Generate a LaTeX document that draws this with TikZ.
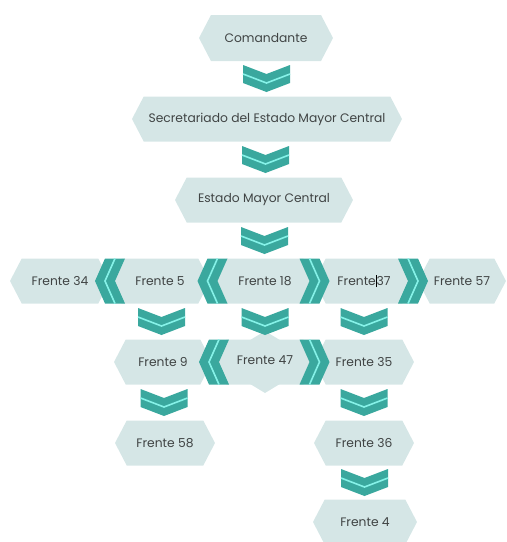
\documentclass[tikz,border=0pt]{standalone}
\usepackage{fontspec}
\setmainfont{Poppins}
\usetikzlibrary{shapes.symbols}
\definecolor{boxcol}{HTML}{D5E6E6}
\definecolor{chevcol}{HTML}{3AA89E}
\definecolor{chevline}{HTML}{86F2E8}
\definecolor{txtcol}{HTML}{404444}
\tikzset{
  hexbox/.style={shape=signal, signal to=west and east, signal pointer angle=125,
    fill=boxcol, draw=none, minimum height=45pt, minimum width=100pt, inner sep=0pt,
    font=\fontsize{12.3}{14}\selectfont, text=txtcol},
  chevdown/.pic={
    \fill[chevcol] (-23.5,-13.5) -- (0,-4.5) -- (23.5,-13.5) -- (23.5,4.5) -- (0,13.5) -- (-23.5,4.5) -- cycle;
    \draw[chevline, line width=1.6pt] (-23.5,-4.5) -- (0,4.5) -- (23.5,-4.5);},
  chevright/.pic={
    \fill[chevcol] (-15,-22.5) -- (5,-22.5) -- (15,0) -- (5,22.5) -- (-15,22.5) -- (-5,0) -- cycle;
    \draw[chevline, line width=1.6pt] (-5,-22.5) -- (5,0) -- (-5,22.5);},
  chevleft/.pic={
    \fill[chevcol] (15,-22.5) -- (-5,-22.5) -- (-15,0) -- (-5,22.5) -- (15,22.5) -- (5,0) -- cycle;
    \draw[chevline, line width=1.6pt] (5,-22.5) -- (-5,0) -- (5,22.5);}
}
\begin{document}
\begin{tikzpicture}[x=1pt, y=-1pt]
\useasboundingbox (0,0) rectangle (507,542);
% boxes
\node[hexbox, minimum width=134pt, minimum height=46pt] (com) at (266,38) {Comandante};
\node[hexbox, minimum width=270pt] (sec) at (267,119) {Secretariado del Estado Mayor Central};
\node[hexbox, minimum width=178pt] (emc) at (264,200) {Estado Mayor Central};
\node[hexbox] (f34) at (60,281) {Frente 34};
\node[hexbox] (f5) at (160,281) {Frente 5};
\node[hexbox] (f18) at (265,281) {Frente 18};
\node[hexbox] (f37) at (364,281) {Frente{\color{black}\rule[-1.5pt]{0.7pt}{12pt}}37};
\node[hexbox, minimum width=88pt] (f57) at (462,281) {Frente 57};
\fill[boxcol] (214,362) -- (265,331) -- (316,362) -- (265,393) -- cycle;
\node[hexbox, minimum width=98pt] (f9) at (163,362) {Frente 9};
\node[hexbox] (f47) at (265,362) {\raisebox{3pt}{Frente 47}};
\node[hexbox] (f35) at (364,362) {Frente 35};
\node[hexbox] (f58) at (165,443) {Frente 58};
\node[hexbox] (f36) at (364,443) {Frente 36};
\node[hexbox, minimum width=104pt] (f4) at (365,522) {Frente 4};
% chevron connectors
\path (com.center) -- (sec.center) pic[midway]{chevdown};
\path (sec.center) -- (emc.center) pic[midway]{chevdown};
\path (emc.center) -- (f18.center) pic[midway]{chevdown};
\path (f18.center) -- (f5.center) pic[midway]{chevleft};
\path (f5.center) -- (f34.center) pic[midway]{chevleft};
\path (f18.center) -- (f37.center) pic[midway]{chevright};
\path (f37.center) -- (f57.center) pic[midway]{chevright};
\path (f5.center) -- (f9.center) pic[midway]{chevdown};
\path (f18.center) -- (f47.center) pic[midway]{chevdown};
\path (f37.center) -- (f35.center) pic[midway]{chevdown};
\path (f47.center) -- (f9.center) pic[midway]{chevleft};
\path (f47.center) -- (f35.center) pic[midway]{chevright};
\path (f9.center) -- (f58.center) pic[midway]{chevdown};
\path (f35.center) -- (f36.center) pic[midway]{chevdown};
\path (f36.center) -- (f4.center) pic[midway]{chevdown};
\end{tikzpicture}
\end{document}
